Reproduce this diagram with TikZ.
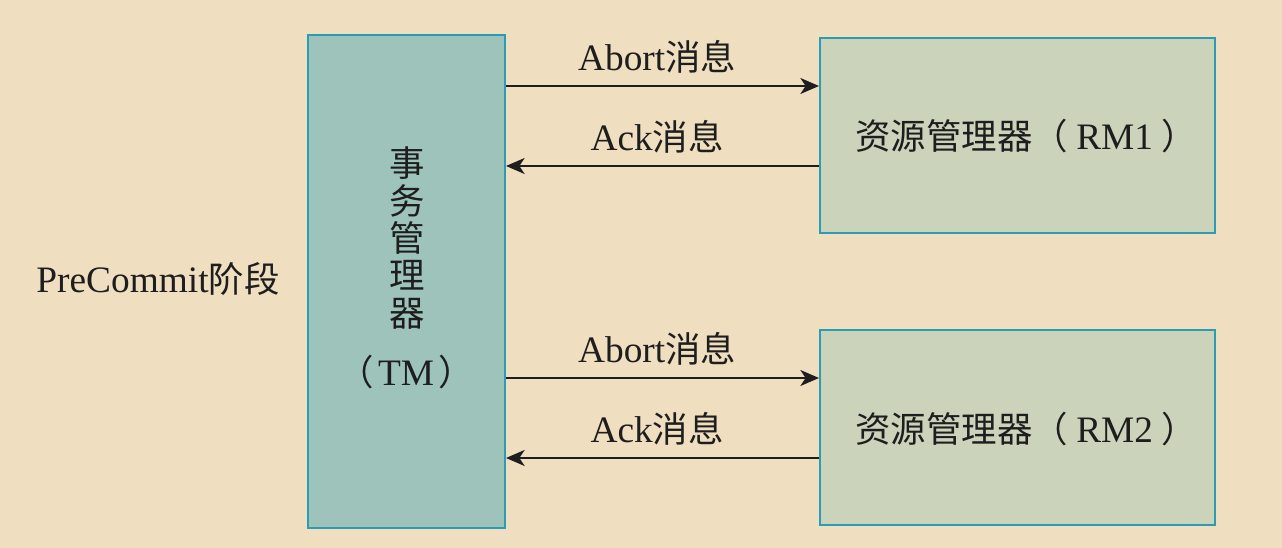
\documentclass[tikz,border=0pt]{standalone}
\usepackage{fontspec}
\setmainfont{Liberation Serif}
\newfontfamily\cjk{Noto Sans CJK SC}[Scale=0.95]
\usetikzlibrary{arrows.meta}
\definecolor{bgc}{HTML}{F0DEC0}
\definecolor{tmfill}{HTML}{9DC3BB}
\definecolor{rmfill}{HTML}{CBD3BB}
\definecolor{edgec}{HTML}{2A9DB5}
\definecolor{ink}{HTML}{1E1E1E}
\tikzset{
  boxstyle/.style={draw=edgec, line width=1.5pt, inner sep=0pt},
  msg/.style={draw=ink, line width=1.6pt, -{Stealth[length=14pt,width=12pt,inset=4pt]}},
  lbl/.style={font=\fontsize{28}{30}\selectfont, text=ink, inner sep=0pt},
  msglbl/.style={lbl, above=9pt, xshift=-4pt},
}
\begin{document}
\begin{tikzpicture}[x=0.75pt,y=-0.75pt]
\useasboundingbox[fill=bgc] (0,0) rectangle (1282,548);
\node[boxstyle, fill=tmfill, minimum width=147.75pt, minimum height=369.75pt] (TM) at (406.5,281.5) {};
\node[boxstyle, fill=rmfill, minimum width=296.25pt, minimum height=146.25pt] (RM1) at (1017.5,135.5) {};
\node[boxstyle, fill=rmfill, minimum width=296.25pt, minimum height=146.25pt] (RM2) at (1017.5,427.5) {};
\coordinate (y1) at (0,86);
\coordinate (y2) at (0,166);
\coordinate (y3) at (0,378);
\coordinate (y4) at (0,458);
\draw[msg] (TM.east |- y1) -- node[msglbl] (l1) {Abort{\cjk 消息}} (RM1.west |- y1);
\draw[msg] (RM1.west |- y2) -- node[msglbl] (l2) {Ack{\cjk 消息}} (TM.east |- y2);
\draw[msg] (TM.east |- y3) -- node[msglbl] (l3) {Abort{\cjk 消息}} (RM2.west |- y3);
\draw[msg] (RM2.west |- y4) -- node[msglbl] (l4) {Ack{\cjk 消息}} (TM.east |- y4);
\node[lbl, align=center, font=\fontsize{28}{28.1}\selectfont\cjk] (tmtext) at (407,238) {事\\务\\管\\理\\器};
\node[lbl] (tmabbr) at (406,372) {{\cjk （}\hspace{3pt}TM\hspace{3pt}{\cjk ）}};
\node[lbl] (rm1text) at (1026,136) {{\cjk 资源管理器（}\hspace{6pt}RM1\hspace{6pt}{\cjk ）}};
\node[lbl] (rm2text) at (1026,429) {{\cjk 资源管理器（}\hspace{6pt}RM2\hspace{6pt}{\cjk ）}};
\node[lbl] (phase) at (158,279) {PreCommit{\cjk 阶段}};
\end{tikzpicture}
\end{document}
